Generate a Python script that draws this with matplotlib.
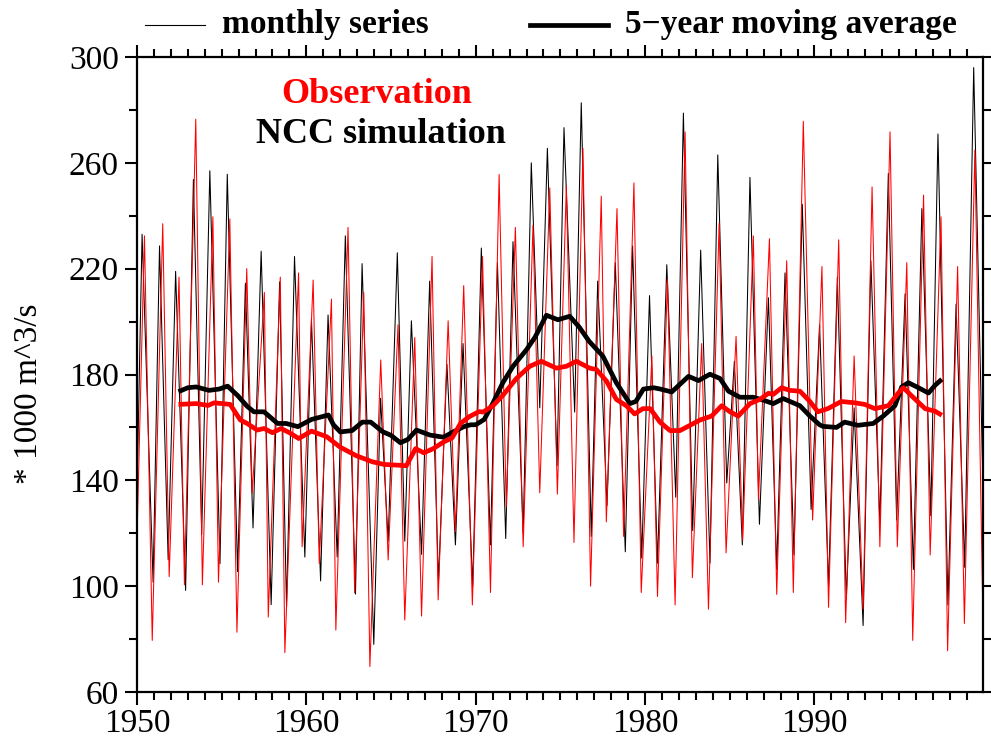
import matplotlib
matplotlib.use("Agg")
import matplotlib.pyplot as plt
from matplotlib.lines import Line2D
from matplotlib.ticker import MultipleLocator
import numpy as np

plt.rcParams['font.family'] = ['Liberation Serif', 'DejaVu Serif']

# ---- data (turning points of monthly series) ----
sim_t = [1950.00, 1950.30, 1950.95, 1951.33, 1951.84, 1952.28, 1952.87, 1953.33, 1953.82, 1954.30,
         1954.90, 1955.33, 1955.94, 1956.40, 1956.85, 1957.33, 1957.92, 1958.42, 1958.83, 1959.30,
         1959.91, 1960.30, 1960.84, 1961.28, 1961.82, 1962.30, 1962.90, 1963.29, 1963.98, 1964.38,
         1964.83, 1965.37, 1965.81, 1966.20, 1966.80, 1967.28, 1967.80, 1968.30, 1968.80, 1969.25,
         1969.82, 1970.33, 1970.87, 1971.28, 1971.77, 1972.20, 1972.80, 1973.28, 1973.78, 1974.23,
         1974.80, 1975.21, 1975.84, 1976.23, 1976.82, 1977.20, 1977.75, 1978.24, 1978.83, 1979.26,
         1979.80, 1980.26, 1980.73, 1981.28, 1981.81, 1982.26, 1982.81, 1983.28, 1983.83, 1984.29,
         1984.82, 1985.27, 1985.74, 1986.19, 1986.75, 1987.28, 1987.77, 1988.26, 1988.79, 1989.28,
         1989.80, 1990.30, 1990.83, 1991.35, 1991.88, 1992.34, 1992.87, 1993.33, 1993.86, 1994.36,
         1994.85, 1995.35, 1995.84, 1996.34, 1996.87, 1997.29, 1997.88, 1998.36, 1998.87, 1999.40,
         1999.92]
sim_v = [135, 233, 101.5, 228.6, 110, 219, 98.4, 253.7, 119.6, 257,
         108.5, 255.7, 105.5, 214.5, 122, 226.6, 93, 215, 92, 224.6,
         111, 201, 102, 202.5, 111, 232.4, 97, 221.9, 78, 171,
         117, 226, 117, 200.3, 112, 215.3, 101.7, 183.9, 115.6, 191.7,
         99.8, 227.8, 115.6, 222.3, 118, 230.2, 120, 260, 167.4, 265.5,
         145.5, 273.3, 165.8, 282.7, 118.8, 215.3, 130.5, 222.3, 113, 228.6,
         110.6, 209.8, 108.7, 221.5, 133.6, 278.8, 121, 227, 108.7, 263,
         139, 185, 115.6, 254.5, 123.4, 209, 106.3, 218.4, 111.8, 244.3,
         129, 198.8, 100, 216.8, 95.3, 167.4, 85.1, 223, 123.4, 256,
         125, 210.5, 106.3, 242.7, 126.6, 270.9, 92.9, 206.6, 107.1, 296,
         145.5]

obs_t = [1950.00, 1950.44, 1950.90, 1951.52, 1951.90, 1952.48, 1952.80, 1953.47, 1953.86, 1954.48,
         1954.81, 1955.48, 1955.90, 1956.48, 1956.80, 1957.52, 1957.75, 1958.46, 1958.73, 1959.54,
         1959.75, 1960.40, 1960.76, 1961.48, 1961.74, 1962.46, 1962.85, 1963.39, 1963.75, 1964.39,
         1964.83, 1965.41, 1965.81, 1966.40, 1966.80, 1967.42, 1967.78, 1968.37, 1968.80, 1969.29,
         1969.80, 1970.40, 1970.87, 1971.38, 1971.80, 1972.34, 1972.80, 1973.38, 1973.78, 1974.37,
         1974.82, 1975.35, 1975.80, 1976.33, 1976.78, 1977.41, 1977.71, 1978.34, 1978.73, 1979.34,
         1979.77, 1980.40, 1980.73, 1981.32, 1981.77, 1982.36, 1982.79, 1983.34, 1983.74, 1984.37,
         1984.78, 1985.37, 1985.76, 1986.39, 1986.69, 1987.34, 1987.77, 1988.36, 1988.75, 1989.34,
         1989.89, 1990.44, 1990.83, 1991.43, 1991.84, 1992.34, 1992.87, 1993.40, 1993.86, 1994.46,
         1994.89, 1995.45, 1995.80, 1996.44, 1996.83, 1997.47, 1997.86, 1998.45, 1998.85, 1999.47,
         1999.92]
obs_v = [118, 232.4, 79.5, 237, 103.6, 216.8, 100.5, 276.5, 100.5, 239.6,
         101.5, 238.8, 82.6, 220, 135, 211, 88.3, 216.8, 74.9, 218.4,
         114.9, 215.7, 108.6, 208.5, 83.4, 235.6, 97.5, 211, 69.6, 185.5,
         109.9, 198.8, 87.2, 194, 88.7, 224.6, 94.8, 200.3, 120.6, 213.6,
         92.9, 224.6, 97.6, 255.6, 130, 235.6, 114.9, 236.4, 135.3, 250.5,
         134.8, 251.3, 116.5, 265.5, 100, 247.4, 124.3, 242.7, 118.8, 252.4,
         97.6, 187, 96.1, 216, 92.9, 271.7, 103.2, 191.7, 91.3, 237.2,
         112.6, 194.4, 117.3, 232.4, 132.8, 231.3, 96.9, 223, 97.6, 275.7,
         125, 220.8, 92, 230.9, 86.2, 187, 91.3, 250.9, 114.9, 271.7,
         114.9, 222.3, 79.5, 247.8, 111.8, 239.6, 75.6, 220.8, 85.9, 264.8,
         96.9]

# ---- 5-year moving averages ----
sim_ma_t = [1952.45, 1953.0, 1953.5, 1954.25, 1954.85, 1955.35, 1955.95, 1956.5, 1956.9, 1957.5,
            1958.3, 1958.8, 1959.5, 1960.3, 1961.3, 1961.6, 1962.0, 1962.7, 1963.3, 1963.8,
            1964.5, 1965.0, 1965.55, 1966.0, 1966.5, 1967.3, 1968.1, 1968.7, 1969.3, 1969.7,
            1970.0, 1970.5, 1971.0, 1971.6, 1972.2, 1973.0, 1973.5, 1974.17, 1974.85, 1975.55,
            1976.1, 1976.7, 1977.5, 1978.3, 1979.1, 1979.45, 1979.9, 1980.5, 1980.9, 1981.57,
            1982.56, 1983.15, 1983.83, 1984.42, 1984.92, 1985.6, 1986.39, 1986.98, 1987.57, 1988.16,
            1989.14, 1989.73, 1990.3, 1990.5, 1991.3, 1991.78, 1992.57, 1993.47, 1994.06, 1994.75,
            1995.15, 1995.54, 1996.14, 1996.73, 1997.13, 1997.52]
sim_ma_v = [173.5, 175, 175.3, 174, 174.5, 175.6, 172, 168, 165.9, 165.9,
            161.5, 161.5, 160.3, 163, 164.7, 161, 158.3, 158.8, 162, 162,
            158.4, 157, 154.2, 155.5, 159, 157.1, 156.3, 158.4, 160.3, 161,
            161, 163, 169, 176.9, 183.1, 189.4, 194.1, 202.4, 200.7, 202,
            198, 192.5, 187, 176.9, 169, 169.8, 174.5, 175, 174.5, 173.4,
            179.3, 177.7, 180.1, 178.5, 173.7, 171.4, 171.4, 170.3, 169, 170.9,
            168.2, 164.3, 161, 160.4, 160, 162, 160.8, 161.5, 164.3, 168.2,
            175.3, 176.9, 175, 173, 176, 178.2]

obs_ma_t = [1952.45, 1953.5, 1954.2, 1954.55, 1955.5, 1956.1, 1956.5, 1957.1, 1957.5, 1958.0,
            1958.5, 1959.0, 1959.55, 1960.3, 1961.2, 1961.98, 1962.95, 1963.9, 1964.6, 1965.5,
            1965.9, 1966.45, 1966.93, 1967.5, 1968.1, 1968.6, 1969.1, 1969.6, 1970.2, 1970.43,
            1971.02, 1971.61, 1972.4, 1973.19, 1973.87, 1974.76, 1975.35, 1975.94, 1976.73, 1977.12,
            1977.71, 1978.3, 1978.89, 1979.38, 1979.87, 1980.3, 1980.88, 1981.47, 1982.06, 1982.65,
            1983.24, 1983.93, 1984.52, 1985.01, 1985.5, 1986.19, 1986.78, 1987.28, 1987.57, 1988.06,
            1988.55, 1989.14, 1989.73, 1990.2, 1990.79, 1991.58, 1992.38, 1992.97, 1993.56, 1994.36,
            1994.95, 1995.25, 1995.74, 1996.53, 1997.13, 1997.52]
obs_ma_v = [168.7, 169, 168.3, 169.3, 168.7, 162.8, 161.5, 159, 159.6, 158,
            159.6, 158, 155.8, 158.6, 156.5, 152.6, 149.3, 147, 146, 145.7,
            145.5, 152, 150.4, 152, 154.5, 156, 161.5, 164, 166, 165.8,
            168.2, 172.2, 178.5, 183.1, 185, 182.4, 183.1, 185, 182.4, 181.9,
            177.6, 170.6, 168.2, 165.1, 167.1, 167.1, 162, 158.8, 158.8, 160.8,
            162.8, 164.3, 168.2, 165.9, 164.3, 169, 170.6, 172.9, 172.5, 175,
            174, 173.7, 169.8, 165.9, 167.1, 169.8, 169.3, 168.7, 167.1, 168.2,
            173, 175, 171.9, 167.1, 166.1, 164.6]

x_ticks = [1950, 1960, 1970, 1980, 1990]
y_ticks = [60, 100, 140, 180, 220, 260, 300]

fig = plt.figure(figsize=(9.91, 7.42), dpi=100)
ax = fig.add_axes([137 / 991, 1 - 692 / 742, (982.5 - 137) / 991, 635 / 742])

ax.plot(sim_t, sim_v, color='black', lw=0.75)
ax.plot(obs_t, obs_v, color='#ff0000', lw=0.75)
ax.plot(sim_ma_t, sim_ma_v, color='black', lw=3.4, solid_capstyle='butt')
ax.plot(obs_ma_t, obs_ma_v, color='#ff0000', lw=3.4, solid_capstyle='butt')

ax.set_xlim(1950, 1999.92)
ax.set_ylim(60, 300)
ax.set_xticks(x_ticks)
ax.set_yticks(y_ticks)
ax.xaxis.set_minor_locator(MultipleLocator(1))
ax.yaxis.set_minor_locator(MultipleLocator(20))
ax.tick_params(which='both', direction='out', top=True, right=True, width=1.5, labelsize=24)
ax.tick_params(which='major', length=9)
ax.tick_params(which='minor', length=6)
ax.tick_params(axis='x', pad=3)
ax.tick_params(axis='y', pad=4)
for s in ax.spines.values():
    s.set_linewidth(1.6)

ax.set_ylabel('* 1000 m^3/s', fontsize=24)
ax.yaxis.set_label_coords(-0.11, 0.47)

# legend-like header
fig.add_artist(Line2D([145 / 991, 205 / 991], [1 - 25 / 742] * 2, color='black', lw=0.8,
                      transform=fig.transFigure))
fig.text(222 / 991, 1 - 33 / 742, 'monthly series', fontsize=24, fontweight='bold',
         ha='left', va='baseline')
fig.add_artist(Line2D([530 / 991, 608 / 991], [1 - 25 / 742] * 2, color='black', lw=3.4,
                      transform=fig.transFigure))
fig.text(625 / 991, 1 - 33 / 742, '5\u2212year moving average', fontsize=24, fontweight='bold',
         ha='left', va='baseline')

fig.text(377 / 991, 1 - 103 / 742, 'Observation', color='#ff0000', fontsize=26,
         fontweight='bold', ha='center', va='baseline')
fig.text(381 / 991, 1 - 143 / 742, 'NCC simulation', color='black', fontsize=26,
         fontweight='bold', ha='center', va='baseline')

fig.savefig('out.png', dpi=100)
